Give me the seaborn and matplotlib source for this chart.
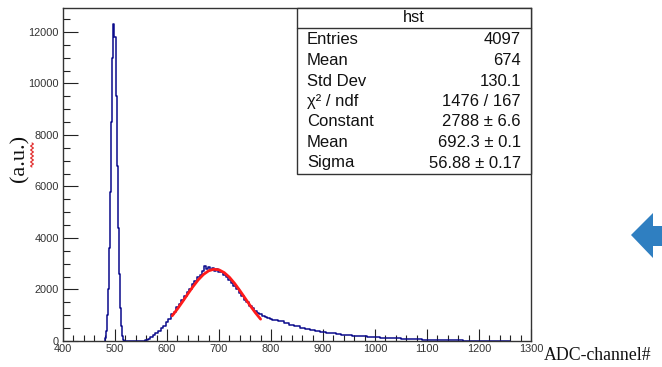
import matplotlib
matplotlib.use("Agg")
import matplotlib.pyplot as plt
from matplotlib.patches import Rectangle, Polygon
from matplotlib.lines import Line2D
from matplotlib.ticker import MultipleLocator
import numpy as np
import pandas as pd
import seaborn as sns

# ---------------- data ----------------
adc_channel = [480, 482, 484, 486, 488, 490, 492, 494, 496, 498, 500, 502, 504, 506, 508,
               510, 512, 514, 516, 518,
               550, 555, 560, 565, 570, 575, 580, 585, 590, 595,
               600, 605, 610, 615, 620, 625, 630, 635, 640, 645, 650, 655, 660, 665, 670,
               673, 676, 680, 684, 688, 692, 696, 700, 705, 710, 715, 720, 725, 730, 735,
               740, 745, 750, 755, 760, 765, 770, 775, 780, 785, 790, 795, 800, 805, 810,
               815, 820, 830, 840, 850, 860, 870, 880, 890, 900, 910, 920, 930, 940, 950,
               960, 970, 980, 990, 1000, 1020, 1040, 1060, 1080, 1100, 1120, 1140, 1160,
               1180, 1200, 1220, 1240, 1260]
counts = [0, 100, 400, 1000, 2000, 3600, 5800, 8500, 11000, 12300, 11800, 9500, 6800, 4400, 2600,
          1300, 600, 200, 50, 0,
          0, 10, 40, 90, 150, 220, 300, 390, 490, 600,
          720, 860, 1030, 1140, 1320, 1430, 1600, 1730, 1900, 2030, 2200, 2320, 2470, 2560, 2720,
          2900, 2780, 2860, 2750, 2830, 2730, 2790, 2690, 2670, 2560, 2490, 2370, 2260, 2130, 2020,
          1860, 1750, 1590, 1500, 1370, 1280, 1180, 1100, 1040, 980, 950, 900, 860, 830, 800,
          780, 760, 700, 640, 570, 510, 460, 420, 390, 360, 330, 300, 275, 250, 230,
          210, 190, 175, 160, 150, 125, 105, 85, 65, 50, 40, 30, 22,
          15, 10, 6, 3, 0]

fit_x = [610, 620, 630, 640, 650, 660, 670, 680, 690, 700, 710, 720, 730, 740, 750, 760, 770, 780]
fit_y = [979, 1243, 1530, 1827, 2114, 2373, 2582, 2724, 2786, 2763, 2656, 2476, 2238, 1961,
         1667, 1373, 1097, 849]

stat_names = ["Entries", "Mean", "Std Dev", "\u03c7\u00b2 / ndf", "Constant", "Mean", "Sigma"]
stat_values = ["4097", "674", "130.1", "1476 / 167", "2788 \u00b1 6.6", "692.3 \u00b1 0.1",
               "56.88 \u00b1 0.17"]
hist_name = "hst"

x_ticks = [400, 500, 600, 700, 800, 900, 1000, 1100, 1200, 1300]
y_ticks = [0, 2000, 4000, 6000, 8000, 10000, 12000]

# ---------------- styling ----------------
sns.set_style("white")
plt.rcParams["font.family"] = ["Liberation Sans", "DejaVu Sans"]

W, H = 662, 367
fig = plt.figure(figsize=(W / 100, H / 100), dpi=100)
L, R, T, B = 63, 531, 8, 341
ax = fig.add_axes([L / W, 1 - B / H, (R - L) / W, (B - T) / H])

hist_df = pd.DataFrame({"adc": adc_channel, "counts": counts})
fit_df = pd.DataFrame({"adc": fit_x, "fit": fit_y})

sns.lineplot(data=hist_df, x="adc", y="counts", ax=ax, color="#0a0a8c", lw=1.1,
             drawstyle="steps-mid", estimator=None, sort=False)
sns.lineplot(data=fit_df, x="adc", y="fit", ax=ax, color="#ff1a1a", lw=2.0,
             estimator=None, sort=False)

ax.set_xlim(400, 1300)
ax.set_ylim(0, 12930)
ax.set_xlabel("")
ax.set_ylabel("")
ax.set_xticks(x_ticks)
ax.set_yticks(y_ticks)
ax.set_xticklabels([str(v) for v in x_ticks])
ax.set_yticklabels([str(v) for v in y_ticks])
ax.xaxis.set_minor_locator(MultipleLocator(20))
ax.yaxis.set_minor_locator(MultipleLocator(500))
ax.tick_params(axis="both", which="both", direction="in", colors="#222222",
               labelsize=7.9, width=0.8, top=False, right=False,
               bottom=True, left=True)
ax.tick_params(axis="x", which="major", length=9, pad=2)
ax.tick_params(axis="x", which="minor", length=4.5)
ax.tick_params(axis="y", which="major", length=10.5, pad=3)
ax.tick_params(axis="y", which="minor", length=5.2)
for lab in ax.get_xticklabels() + ax.get_yticklabels():
    lab.set_color("#333333")
for s in ax.spines.values():
    s.set_color("#333333")
    s.set_linewidth(1.0)


def fx(px):
    return px / W


def fy(py):
    return 1 - py / H


# stats box
bx0, bx1, by0, by1 = 297, 531, 8, 174
fig.add_artist(Rectangle((fx(bx0), fy(by1)), fx(bx1) - fx(bx0), fy(by0) - fy(by1),
                         transform=fig.transFigure, facecolor="white",
                         edgecolor="#333333", lw=1.0, zorder=5))
fig.add_artist(Line2D([fx(bx0), fx(bx1)], [fy(28), fy(28)], transform=fig.transFigure,
                      color="#333333", lw=1.0, zorder=6))
fig.text(fx((bx0 + bx1) / 2), fy(17), hist_name, ha="center", va="center",
         fontsize=11.8, color="#111111", zorder=7)
row_y = [40, 60.5, 81, 101.5, 122, 142.5, 163]
for name, val, yy in zip(stat_names, stat_values, row_y):
    fig.text(fx(307), fy(yy), name, ha="left", va="center", fontsize=12,
             color="#111111", zorder=7)
    fig.text(fx(521), fy(yy), val, ha="right", va="center", fontsize=12,
             color="#111111", zorder=7)

# axis titles
fig.text(fx(20), fy(158), "(a.u.)", rotation=90, ha="center", va="center",
         fontsize=16, family=["Liberation Serif", "DejaVu Serif"], color="#111111")
sq_y = np.linspace(143, 167, 60)
sq_x = 32 + 1.3 * np.sin((sq_y - 143) / 4.0 * 2 * np.pi)
fig.add_artist(Line2D(fx(sq_x), fy(sq_y), transform=fig.transFigure, color="#e02020", lw=0.8))

fig.text(fx(544), fy(355), "ADC-channel#", ha="left", va="center",
         fontsize=12.8, family=["Liberation Serif", "DejaVu Serif"], color="#111111")

# blue arrow shape on the right edge
arrow_px = [(631, 235), (653, 213), (653, 226), (662, 226), (662, 246), (653, 246), (653, 258)]
fig.add_artist(Polygon([(fx(a), fy(b)) for a, b in arrow_px], closed=True,
                       transform=fig.transFigure, facecolor="#2f7fc1", edgecolor="none"))

fig.savefig("out.png", dpi=100)
